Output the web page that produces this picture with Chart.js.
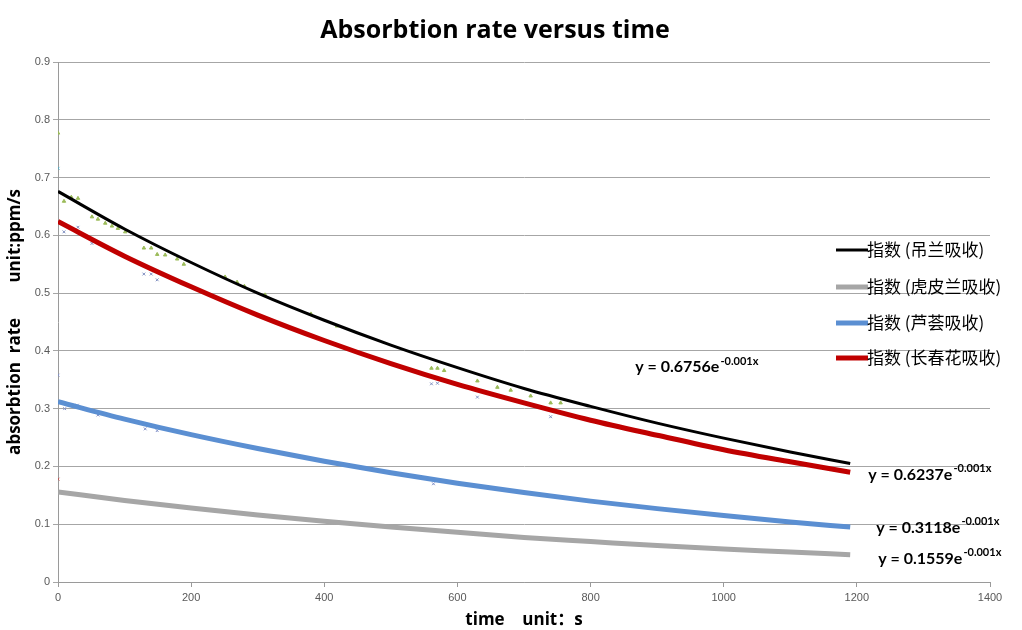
<!DOCTYPE html>
<html>
<head>
<meta charset="utf-8">
<title>Absorbtion rate versus time</title>
<script src="https://cdn.jsdelivr.net/npm/chart.js@4.4.0/dist/chart.umd.min.js"></script>
<style>
  html, body { margin: 0; padding: 0; background: #fff; }
  #wrap { width: 1022px; height: 630px; position: relative; }
</style>
</head>
<body>
<div id="wrap"><canvas id="chart" width="1022" height="630"></canvas></div>
<script>
// trend line samples (time in s)
const trendTimes = [0, 100, 200, 300, 400, 500, 600, 700, 800, 900, 1000, 1100, 1190];
const diaolan    = [0.676, 0.611, 0.553, 0.500, 0.453, 0.410, 0.371, 0.335, 0.304, 0.275, 0.249, 0.225, 0.205];
const hupilan    = [0.156, 0.141, 0.128, 0.116, 0.105, 0.095, 0.086, 0.077, 0.070, 0.063, 0.057, 0.052, 0.047];
const luhui      = [0.312, 0.282, 0.255, 0.231, 0.209, 0.189, 0.171, 0.155, 0.140, 0.127, 0.115, 0.104, 0.095];
const changchun  = [0.624, 0.564, 0.511, 0.462, 0.418, 0.378, 0.342, 0.310, 0.280, 0.254, 0.229, 0.208, 0.190];

const seriesNames = ['指数 (吊兰吸收)', '指数 (虎皮兰吸收)', '指数 (芦荟吸收)', '指数 (长春花吸收)'];
const equations = [
  ['y = 0.6756e', '-0.001x'],
  ['y = 0.1559e', '-0.001x'],
  ['y = 0.3118e', '-0.001x'],
  ['y = 0.6237e', '-0.001x']
];

// raw measured points (small markers)
const rawDiaolanT = [0, 9, 20, 30, 51, 60, 71, 81, 90, 101, 129, 140, 149, 161, 179, 189, 251, 269, 280, 311, 380, 419, 561, 570, 580, 630, 660, 680, 710, 740, 755];
const rawDiaolanV = [0.777, 0.659, 0.666, 0.664, 0.632, 0.628, 0.621, 0.616, 0.612, 0.606, 0.578, 0.578, 0.567, 0.566, 0.559, 0.550, 0.528, 0.519, 0.512, 0.497, 0.464, 0.443, 0.370, 0.370, 0.366, 0.348, 0.337, 0.332, 0.322, 0.310, 0.310];
const rawChangT = [0, 9, 30, 51, 129, 140, 149, 561, 570, 630, 740];
const rawChangV = [0.716, 0.606, 0.614, 0.586, 0.533, 0.533, 0.523, 0.343, 0.344, 0.320, 0.286];
const rawLuhuiT = [0, 10, 29, 60, 131, 149, 564];
const rawLuhuiV = [0.358, 0.300, 0.306, 0.289, 0.265, 0.262, 0.170];
const rawHupiT = [0];
const rawHupiV = [0.178];

const xTicks = [0, 200, 400, 600, 800, 1000, 1200, 1400];
const yTicks = [0, 0.1, 0.2, 0.3, 0.4, 0.5, 0.6, 0.7, 0.8, 0.9];

const colors = ['#000000', '#a6a6a6', '#5b8fd2', '#c00000'];
const widths = [3, 5, 5, 5];

function pts(ts, vs){ return ts.map((t, i) => ({ x: t, y: vs[i] })); }

const trendSets = [diaolan, hupilan, luhui, changchun].map((vals, i) => ({
  label: seriesNames[i],
  data: pts(trendTimes, vals),
  borderColor: colors[i],
  backgroundColor: colors[i],
  borderWidth: widths[i],
  pointRadius: 0,
  showLine: true,
  cubicInterpolationMode: 'monotone',
  order: 1
}));

function rawSet(ts, vs, color, style){
  return {
    label: 'raw',
    data: pts(ts, vs),
    showLine: false,
    pointStyle: style,
    pointRadius: 2,
    pointBorderWidth: 1,
    borderColor: color,
    backgroundColor: color,
    order: 2
  };
}

const datasets = [
  rawSet(rawDiaolanT, rawDiaolanV, '#9bbb59', 'triangle'),
  rawSet(rawChangT, rawChangV, '#7f8fc0', 'crossRot'),
  rawSet(rawLuhuiT, rawLuhuiV, '#8090c8', 'crossRot'),
  rawSet(rawHupiT, rawHupiV, '#c0504d', 'crossRot'),
  ...trendSets
];
// first point of the 长春花 raw series is drawn in cyan in the picture
datasets[1].pointBorderColor = datasets[1].data.map((p, i) => i === 0 ? '#4bacc6' : '#7f8fc0');

const legendPlugin = {
  id: 'sideLegend',
  afterDraw(chart){
    const ctx = chart.ctx;
    ctx.save();
    ctx.font = '17px "Noto Sans CJK SC", sans-serif';
    ctx.textBaseline = 'middle';
    ctx.textAlign = 'left';
    const rows = [250, 287, 323, 358];
    seriesNames.forEach((name, i) => {
      ctx.strokeStyle = colors[i];
      ctx.lineWidth = i === 0 ? 3 : 5;
      ctx.beginPath();
      ctx.moveTo(836, rows[i]);
      ctx.lineTo(868, rows[i]);
      ctx.stroke();
      ctx.fillStyle = '#000';
      ctx.fillText(name, 867, rows[i]);
    });
    ctx.restore();
  }
};

const equationPlugin = {
  id: 'equations',
  afterDraw(chart){
    const ctx = chart.ctx;
    const xs = chart.scales.x, ys = chart.scales.y;
    // anchor points (time, rate) of each equation label
    const anchors = [[867, 0.372], [1232, 0.040], [1229, 0.094], [1217, 0.186]];
    ctx.save();
    ctx.textBaseline = 'middle';
    ctx.textAlign = 'left';
    ctx.fillStyle = '#000';
    equations.forEach((eq, i) => {
      const px = xs.getPixelForValue(anchors[i][0]);
      const py = ys.getPixelForValue(anchors[i][1]);
      ctx.font = 'bold 16px Lato, sans-serif';
      ctx.fillText(eq[0], px, py);
      const w = ctx.measureText(eq[0]).width;
      ctx.font = 'bold 11px Lato, sans-serif';
      ctx.fillText(eq[1], px + w + 1, py - 6);
    });
    ctx.restore();
  }
};

new Chart(document.getElementById('chart'), {
  type: 'scatter',
  data: { datasets },
  plugins: [legendPlugin, equationPlugin],
  options: {
    responsive: false,
    animation: false,
    layout: { padding: { left: 0, right: 32, top: 0, bottom: 0 } },
    plugins: {
      legend: { display: false },
      tooltip: { enabled: false },
      title: {
        display: true,
        text: 'Absorbtion rate versus time',
        color: '#000',
        font: { family: '"Open Sans", sans-serif', size: 25, weight: 'bold' },
        padding: { top: 16, bottom: 16 }
      }
    },
    scales: {
      x: {
        type: 'linear',
        min: 0,
        max: 1400,
        afterFit(scale){ scale.height = 48; },
        afterBuildTicks(scale){ scale.ticks = xTicks.map(v => ({ value: v })); },
        ticks: { color: '#595959', font: { family: 'Liberation Sans, sans-serif', size: 11 }, padding: 4, maxRotation: 0,
          callback: v => String(v) },
        grid: { drawOnChartArea: false, drawTicks: true, tickLength: 5, color: '#9a9a9a' },
        border: { color: '#9a9a9a', width: 1 },
        title: {
          display: true,
          text: 'time    unit：s',
          color: '#000',
          font: { family: '"Open Sans", "Noto Sans CJK SC", sans-serif', size: 17, weight: 'bold' },
          padding: { top: 0, bottom: 0 }
        }
      },
      y: {
        min: 0,
        max: 0.9,
        afterFit(scale){ scale.width = 58; },
        afterBuildTicks(scale){ scale.ticks = yTicks.map(v => ({ value: v })); },
        ticks: { color: '#595959', font: { family: 'Liberation Sans, sans-serif', size: 11 }, padding: 3,
          callback: v => String(Math.round(v * 10) / 10) },
        grid: { color: '#a6a6a6', lineWidth: 1, tickLength: 5 },
        border: { color: '#9a9a9a', width: 1 },
        title: {
          display: true,
          text: 'absorbtion  rate        unit:ppm/s',
          color: '#000',
          font: { family: '"Open Sans", sans-serif', size: 17, weight: 'bold' },
          padding: { top: 5, bottom: 0 }
        }
      }
    }
  }
});
</script>
</body>
</html>
